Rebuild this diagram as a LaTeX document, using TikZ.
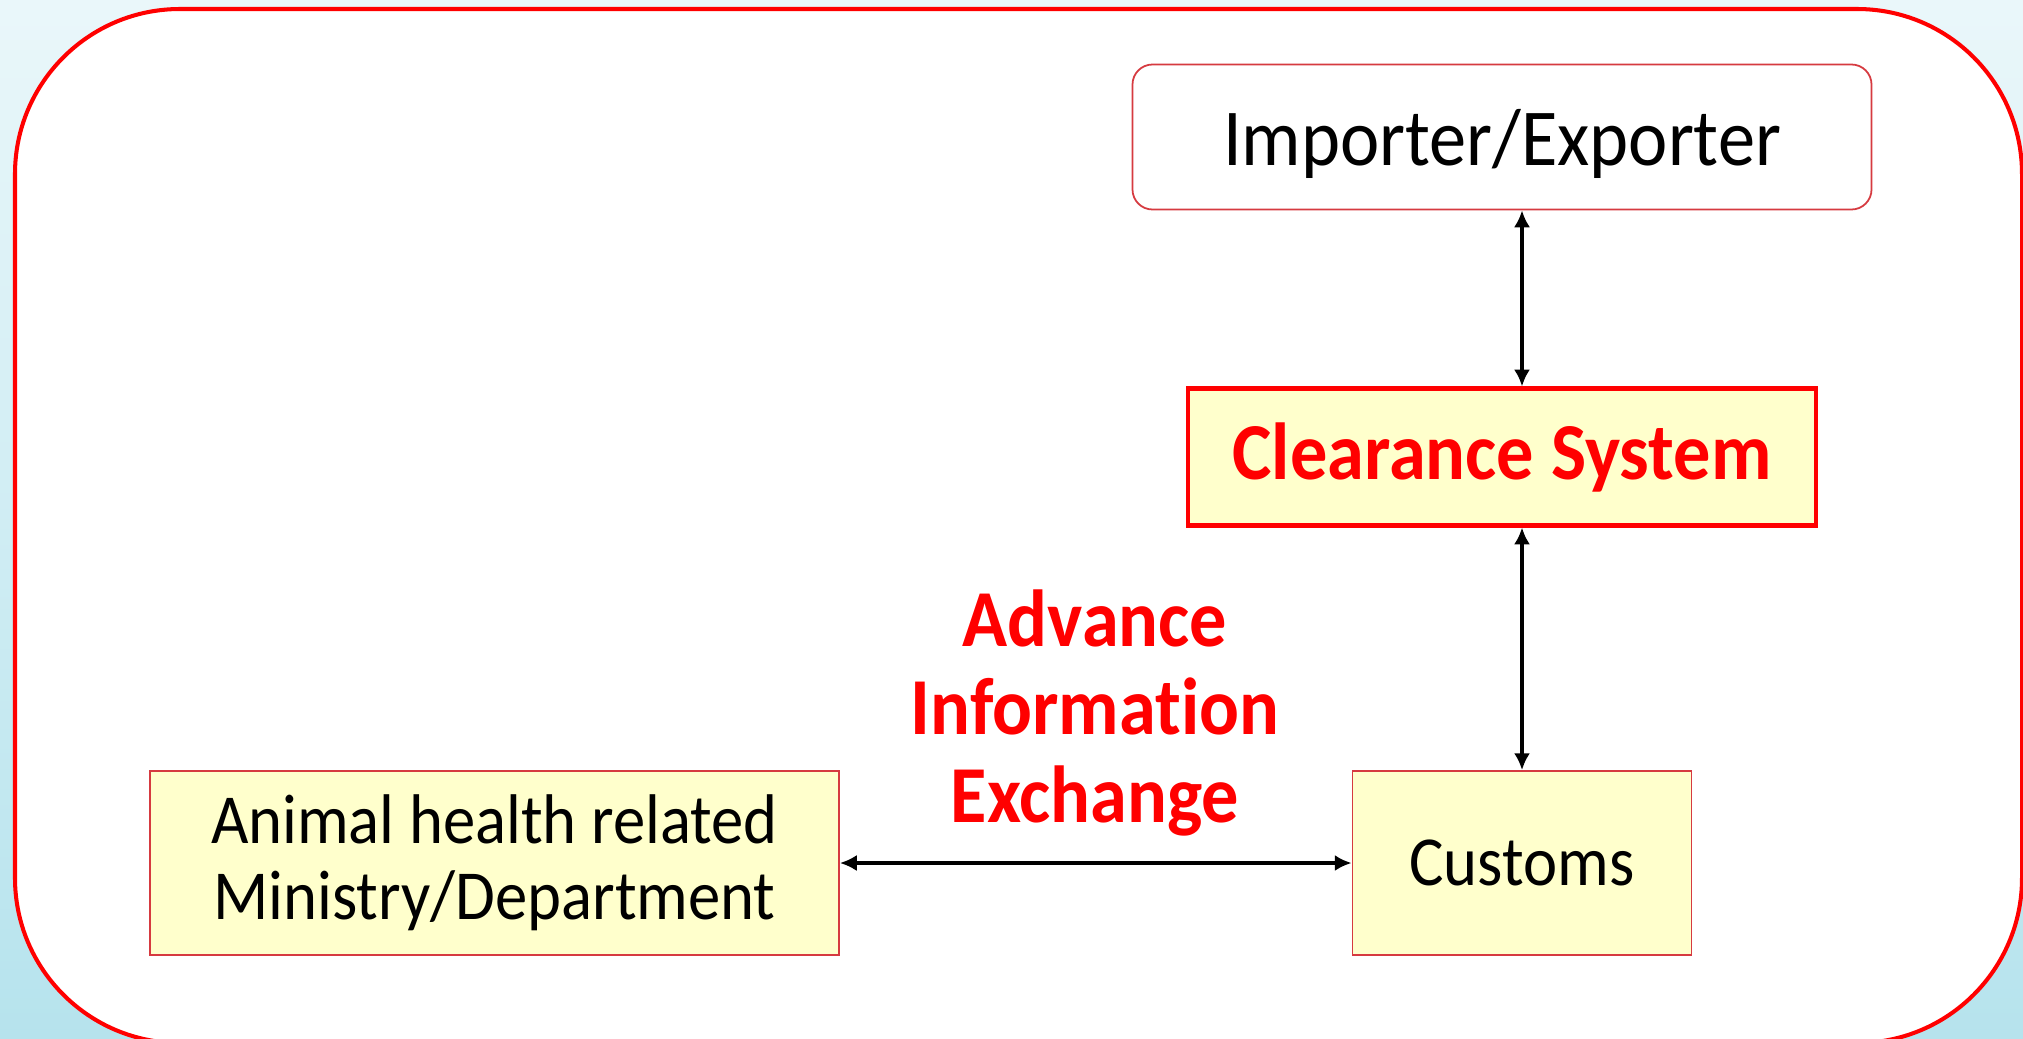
\documentclass[tikz,border=0pt]{standalone}
\usepackage{fontspec}
\setmainfont{Carlito}[FakeStretch=0.92, Ligatures=NoCommon]
\usetikzlibrary{arrows.meta}

\definecolor{boxyellow}{RGB}{255,255,204}
\definecolor{boxred}{RGB}{214,58,64}
\definecolor{bgtop}{RGB}{234,247,250}
\definecolor{bgbot}{RGB}{182,227,237}

\begin{document}
\begin{tikzpicture}[
    box/.style={draw=boxred, line width=0.5pt, fill=boxyellow, inner sep=0pt, align=center},
    arr/.style={{Latex[length=4.8pt,width=4.6pt]}-{Latex[length=4.8pt,width=4.6pt]}, line width=1.1pt}
  ]
  \useasboundingbox (0,0) rectangle (20.23,10.38);
  % background and frame
  \fill[top color=bgtop, bottom color=bgbot] (0,0) rectangle (20.23,10.38);
  \draw[red, line width=1.15pt, fill=white, rounded corners=1.65cm] (0.15,-0.05) rectangle (20.22,10.29);
  % boxes
  \node[box, fill=white, rounded corners=0.2cm, minimum width=7.39cm, minimum height=1.45cm, text depth=0pt,
        font=\fontsize{23}{27}\selectfont] (imp) at (15.02,9.01) {Importer/Exporter};
  \node[box, draw=red, line width=1.15pt, minimum width=6.28cm, minimum height=1.37cm,
        text=red, font=\bfseries\fontsize{23}{27}\selectfont] (clr) at (15.02,5.81) {Clearance System};
  \node[box, minimum width=3.39cm, minimum height=1.84cm,
        font=\fontsize{20}{24}\selectfont] (cust) at (15.22,1.75) {Customs};
  \node[box, minimum width=6.89cm, minimum height=1.84cm,
        font=\fontsize{20}{21.6}\selectfont] (anim) at (4.945,1.75) {Animal health related\\Ministry/Department};
  \node[text=red, align=center, font=\bfseries\fontsize{23}{25}\selectfont] (aie) at (10.95,3.25)
        {Advance\\Information\\Exchange};
  % connectors
  \draw[arr] (imp.south -| cust) -- (clr.north -| cust);
  \draw[arr] (clr.south -| cust) -- (cust.north);
  \draw[arr] (anim.east) -- (cust.west);
\end{tikzpicture}
\end{document}
